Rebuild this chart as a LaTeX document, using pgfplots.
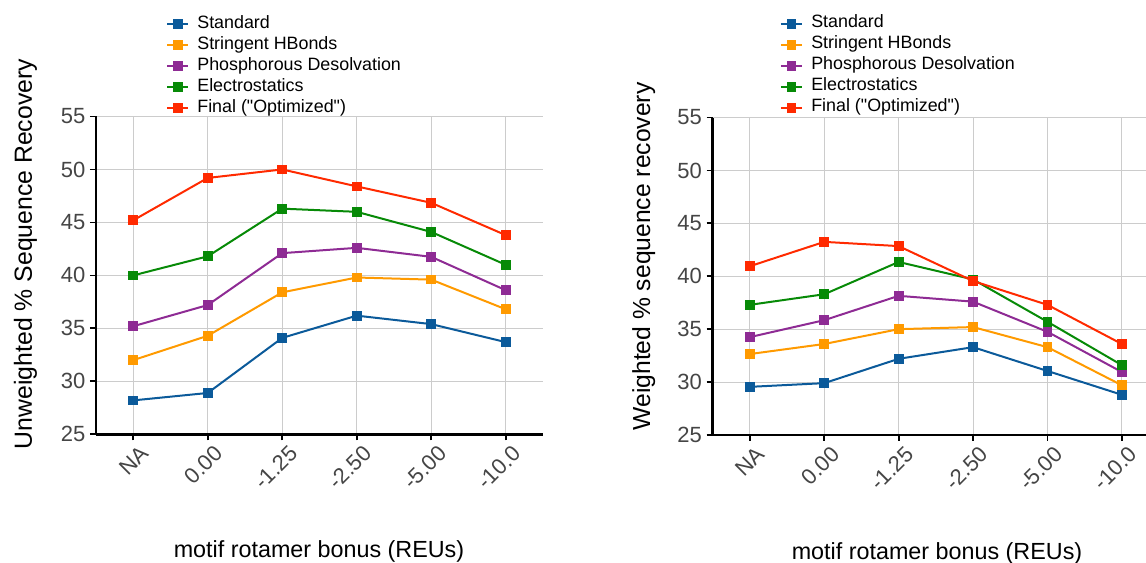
\documentclass[border=0pt]{standalone}
\usepackage{pgfplots}
\pgfplotsset{compat=1.18}
\usepackage{fontspec}
\setmainfont{Liberation Sans}
\newfontfamily\plainfont{Liberation Sans}
\definecolor{cStd}{HTML}{0B5A9A}
\definecolor{cStr}{HTML}{FF9A00}
\definecolor{cPho}{HTML}{8E2B94}
\definecolor{cEle}{HTML}{078A07}
\definecolor{cFin}{HTML}{FF2A00}
\definecolor{tickgray}{HTML}{454545}
\newcommand{\qq}{{\plainfont\symbol{34}}}
\pgfplotsset{
  myaxis/.style={
    scale only axis,
    xmin=-0.5, ymin=25, ymax=55,
    axis x line*=bottom, axis y line*=left,
    axis line style={-, line width=2pt, black},
    tick align=outside,
    xtick pos=bottom, ytick pos=left,
    major tick length=4.5pt,
    major tick style={draw=black, line width=1.3pt},
    grid=major,
    major grid style={line width=0.75pt, draw=black!20},
    xtick={0,1,2,3,4,5},
    xticklabels={NA,0.00,-1.25,-2.50,-5.00,-10.0},
    ytick={25,30,35,40,45,50,55},
    /pgf/number format/assume math mode=true,
    ticklabel style={font=\fontsize{16.5}{19}\selectfont, text=tickgray},
    xticklabel style={rotate=45, anchor=east, inner sep=0pt, xshift=1pt, yshift=-11pt},
    every axis plot/.append style={line width=1.5pt, mark=square*, mark size=2.9pt, mark options={solid}},
    legend cell align=left,
    legend style={draw=none, fill=none, anchor=north west, inner sep=0pt, outer sep=0pt,
      row sep=0pt, font=\fontsize{13.4}{15}\selectfont,
      nodes={inner sep=0pt, text height=11pt, text depth=4.75pt, anchor=west},
      /tikz/every odd column/.append style={column sep=6pt}},
    legend image code/.code={\draw[##1, mark repeat=2, mark phase=2] plot coordinates {(0pt,0pt) (8pt,0pt) (16pt,0pt)};},
    clip=false,
  }
}
\begin{document}
\begin{tikzpicture}
\useasboundingbox (0,0) rectangle (859.5pt,422.25pt);
% ---------- left: unweighted ----------
\begin{axis}[myaxis,
  at={(72pt,96.53pt)}, anchor=south west,
  width=335.25pt, height=238.35pt, xmax=5.5,
  legend style={at={(axis description cs:0.1566,1.324)}}]
\addplot[color=cStd] coordinates {(0,28.2) (1,28.9) (2,34.1) (3,36.2) (4,35.4) (5,33.7)};
\addlegendentry{Standard}
\addplot[color=cStr] coordinates {(0,32.0) (1,34.3) (2,38.4) (3,39.8) (4,39.6) (5,36.8)};
\addlegendentry{Stringent HBonds}
\addplot[color=cPho] coordinates {(0,35.2) (1,37.2) (2,42.1) (3,42.6) (4,41.75) (5,38.6)};
\addlegendentry{Phosphorous Desolvation}
\addplot[color=cEle] coordinates {(0,40.0) (1,41.8) (2,46.3) (3,46.0) (4,44.1) (5,41.0)};
\addlegendentry{Electrostatics}
\addplot[color=cFin] coordinates {(0,45.2) (1,49.2) (2,50.0) (3,48.4) (4,46.85) (5,43.8)};
\addlegendentry{Final (\qq Optimized\qq)}
\end{axis}
% ---------- right: weighted ----------
\begin{axis}[myaxis,
  at={(534.5pt,96pt)}, anchor=south west,
  width=324.75pt, height=238.1pt, xmax=5.32,
  legend style={at={(axis description cs:0.1554,1.3285)}}]
\addplot[color=cStd] coordinates {(0,29.55) (1,29.9) (2,32.2) (3,33.3) (4,31.05) (5,28.8)};
\addlegendentry{Standard}
\addplot[color=cStr] coordinates {(0,32.65) (1,33.6) (2,35.0) (3,35.2) (4,33.3) (5,29.7)};
\addlegendentry{Stringent HBonds}
\addplot[color=cPho] coordinates {(0,34.25) (1,35.85) (2,38.15) (3,37.6) (4,34.75) (5,30.95)};
\addlegendentry{Phosphorous Desolvation}
\addplot[color=cEle] coordinates {(0,37.3) (1,38.3) (2,41.35) (3,39.7) (4,35.7) (5,31.6)};
\addlegendentry{Electrostatics}
\addplot[color=cFin] coordinates {(0,40.95) (1,43.25) (2,42.85) (3,39.55) (4,37.3) (5,33.6)};
\addlegendentry{Final (\qq Optimized\qq)}
\end{axis}
% ---------- axis titles ----------
\node[rotate=90, anchor=base, font=\fontsize{18.6}{21}\selectfont] at (24pt,231.75pt) {Unweighted \% Sequence Recovery};
\node[rotate=90, anchor=base, font=\fontsize{18.5}{21}\selectfont] at (487.5pt,229.9pt) {Weighted \% sequence recovery};
\node[anchor=base, font=\fontsize{17.5}{21}\selectfont] at (239.25pt,3.75pt) {motif rotamer bonus (REUs)};
\node[anchor=base, font=\fontsize{17.5}{21}\selectfont] at (702.75pt,2.25pt) {motif rotamer bonus (REUs)};
\end{tikzpicture}
\end{document}
